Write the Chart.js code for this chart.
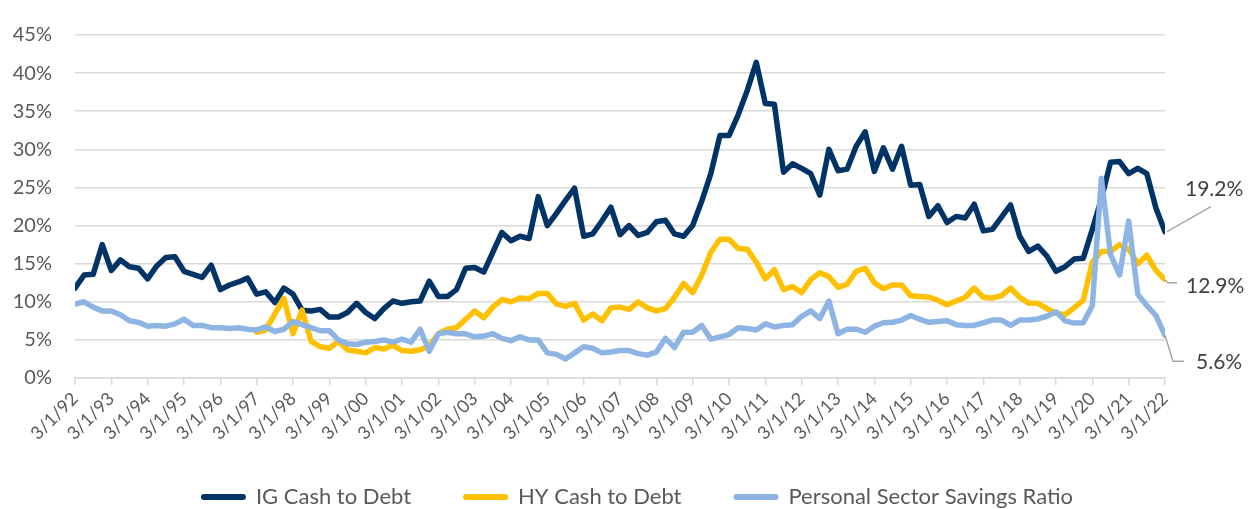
<!DOCTYPE html>
<html>
<head>
<meta charset="utf-8">
<script src="https://cdn.jsdelivr.net/npm/chart.js@4"></script>
<style>
html, body { margin: 0; padding: 0; background: #fff; }
</style>
</head>
<body>
<canvas id="myChart" width="1250" height="509"></canvas>
<script>
// year ticks, one every 4 quarters
var tickLabels = ["3/1/92","3/1/93","3/1/94","3/1/95","3/1/96","3/1/97","3/1/98","3/1/99","3/1/00","3/1/01",
  "3/1/02","3/1/03","3/1/04","3/1/05","3/1/06","3/1/07","3/1/08","3/1/09","3/1/10","3/1/11",
  "3/1/12","3/1/13","3/1/14","3/1/15","3/1/16","3/1/17","3/1/18","3/1/19","3/1/20","3/1/21","3/1/22"];

// quarterly values (%), 3/1/92 .. 3/1/22
var igCash = [11.8,13.5,13.6,17.5,14.1,15.5,14.6,14.4,13.0,14.7,15.8,15.9,14.0,13.6,13.2,14.8,
  11.6,12.2,12.6,13.1,11.0,11.3,9.9,11.8,11.0,8.9,8.8,9.0,8.0,8.0,8.6,9.8,
  8.6,7.8,9.1,10.1,9.8,10.0,10.1,12.7,10.7,10.7,11.6,14.4,14.5,13.9,16.5,19.1,
  18.0,18.6,18.3,23.8,20.0,21.6,23.3,24.9,18.6,18.9,20.6,22.4,18.8,20.0,18.7,19.1,
  20.5,20.7,18.9,18.6,20.0,23.2,26.8,31.8,31.8,34.5,37.7,41.4,36.0,35.9,27.0,28.1,
  27.5,26.8,24.0,30.0,27.2,27.4,30.4,32.3,27.1,30.2,27.4,30.4,25.3,25.4,21.2,22.6,
  20.4,21.2,21.0,22.8,19.3,19.5,21.1,22.7,18.6,16.6,17.3,16.0,14.0,14.6,15.6,15.7,
  19.5,23.5,28.3,28.4,26.8,27.5,26.8,22.3,19.2];

var hyCash = [null,null,null,null,null,null,null,null,null,null,null,null,null,null,null,null,
  null,null,null,null,6.0,6.3,8.4,10.4,5.8,8.9,4.8,4.1,3.9,4.8,3.7,3.5,
  3.3,4.0,3.8,4.3,3.6,3.5,3.7,4.2,5.8,6.4,6.6,7.7,8.8,7.9,9.3,10.3,
  10.0,10.5,10.4,11.1,11.1,9.7,9.4,9.8,7.6,8.4,7.5,9.2,9.3,9.0,10.0,9.2,
  8.8,9.1,10.6,12.4,11.2,13.5,16.5,18.2,18.2,17.0,16.9,15.2,13.0,14.2,11.6,12.0,
  11.2,12.9,13.8,13.3,11.9,12.3,14.0,14.4,12.5,11.7,12.2,12.2,10.8,10.7,10.6,10.2,
  9.6,10.1,10.6,11.8,10.6,10.5,10.8,11.8,10.6,9.8,9.8,9.1,8.5,8.3,9.2,10.2,
  15.2,16.6,16.6,17.5,16.9,15.0,16.1,14.1,12.9];

var savings = [9.7,10.0,9.3,8.8,8.8,8.3,7.5,7.3,6.8,6.9,6.8,7.1,7.7,6.9,6.9,6.6,
  6.6,6.5,6.6,6.4,6.3,6.7,6.1,6.4,7.4,7.0,6.6,6.2,6.2,5.0,4.5,4.4,
  4.7,4.8,5.0,4.7,5.1,4.7,6.4,3.5,5.8,6.0,5.8,5.8,5.4,5.5,5.8,5.2,
  4.9,5.4,5.0,5.0,3.3,3.1,2.5,3.3,4.1,3.9,3.3,3.4,3.6,3.6,3.2,3.0,
  3.4,5.2,4.0,6.0,6.0,6.9,5.1,5.4,5.7,6.6,6.5,6.3,7.1,6.7,6.9,7.0,
  8.1,8.8,7.8,10.1,5.8,6.4,6.4,6.0,6.8,7.25,7.3,7.6,8.2,7.7,7.3,7.4,
  7.5,7.0,6.9,6.9,7.25,7.6,7.6,6.9,7.6,7.6,7.75,8.1,8.7,7.5,7.2,7.25,
  9.5,26.2,16.2,13.5,20.6,11.0,9.5,8.2,5.6];

var seriesNames = ["IG Cash to Debt", "HY Cash to Debt", "Personal Sector Savings Ratio"];
var lineColors = ["#003366", "#FFC000", "#8DB4E2"];
var endLabels = ["19.2%", "12.9%", "5.6%"];

var fontName = "Lato, 'Open Sans', sans-serif";

function toPoints(arr) {
  return arr.map(function (v, i) { return { x: i, y: v }; });
}

// grey leader lines + value text at the last point of each series
const endLabelPlugin = {
  id: 'end_labels',
  afterDatasetsDraw: (chart) => {
    const {ctx} = chart;
    ctx.save();
    ctx.strokeStyle = '#A6A6A6';
    ctx.lineWidth = 1.5;
    ctx.fillStyle = '#404040';
    ctx.font = '21px ' + fontName;
    ctx.textBaseline = 'middle';
    ctx.textAlign = 'left';
    for (var d = 0; d < 3; d++) {
      var meta = chart.getDatasetMeta(d);
      var pt = meta.data[meta.data.length - 1];
      var px = pt.x, py = pt.y;
      ctx.beginPath();
      if (d === 0) {
        ctx.moveTo(px + 2, py);
        ctx.lineTo(px + 46, py - 25);
        ctx.stroke();
        ctx.fillText(endLabels[d], px + 20, py - 42);
      } else if (d === 1) {
        ctx.moveTo(px, py);
        ctx.lineTo(px + 3, py + 3);
        ctx.lineTo(px + 12, py + 3);
        ctx.stroke();
        ctx.fillText(endLabels[d], px + 21, py + 7);
      } else {
        ctx.moveTo(px, py);
        ctx.lineTo(px + 8, py + 26);
        ctx.lineTo(px + 19, py + 26);
        ctx.stroke();
        ctx.fillText(endLabels[d], px + 31, py + 27);
      }
    }
    ctx.restore();
  }
};

// bottom legend with rounded line samples
const legendPlugin = {
  id: 'line_legend',
  afterDraw: (chart) => {
    const {ctx} = chart;
    ctx.save();
    ctx.font = '22px ' + fontName;
    var sample = 45, gapText = 10, gapItem = 52;
    var total = 0;
    for (var i = 0; i < seriesNames.length; i++) {
      total += sample + gapText + ctx.measureText(seriesNames[i]).width;
      if (i > 0) total += gapItem;
    }
    var x = 637 - total / 2;
    var y = 497;
    ctx.textBaseline = 'middle';
    ctx.textAlign = 'left';
    for (var i = 0; i < seriesNames.length; i++) {
      ctx.strokeStyle = lineColors[i];
      ctx.lineWidth = 6;
      ctx.lineCap = 'round';
      ctx.beginPath();
      ctx.moveTo(x + 3, y);
      ctx.lineTo(x + sample - 3, y);
      ctx.stroke();
      x += sample + gapText;
      ctx.fillStyle = '#595959';
      ctx.fillText(seriesNames[i], x, y);
      x += ctx.measureText(seriesNames[i]).width + gapItem;
    }
    ctx.restore();
  }
};

function makeSet(idx, arr, ord) {
  return {
    label: seriesNames[idx],
    data: toPoints(arr),
    borderColor: lineColors[idx],
    backgroundColor: lineColors[idx],
    borderWidth: 5.5,
    borderJoinStyle: 'round',
    borderCapStyle: 'round',
    pointRadius: 0,
    tension: 0,
    spanGaps: false,
    order: ord
  };
}

new Chart("myChart", {
  type: "line",
  plugins: [endLabelPlugin, legendPlugin],
  data: {
    datasets: [
      makeSet(0, igCash, 3),
      makeSet(1, hyCash, 2),
      makeSet(2, savings, 1)
    ]
  },
  options: {
    responsive: false,
    animation: false,
    layout: { padding: { top: 18, left: 12, right: 85, bottom: 36 } },
    plugins: {
      legend: { display: false },
      tooltip: { enabled: false }
    },
    scales: {
      x: {
        type: 'linear',
        min: 0,
        max: 120,
        afterFit: (s) => { s.height = 95; },
        grid: {
          drawOnChartArea: false,
          drawTicks: true,
          tickLength: 7,
          color: '#D9D9D9',
          lineWidth: 1.5
        },
        border: { display: true, color: '#D9D9D9', width: 1.5 },
        ticks: {
          stepSize: 4,
          autoSkip: false,
          maxRotation: 45,
          minRotation: 45,
          padding: 3,
          color: '#595959',
          font: { family: fontName, size: 18 },
          callback: function (v) { return tickLabels[v / 4]; }
        }
      },
      y: {
        min: 0,
        max: 45,
        afterFit: (s) => { s.width = 63; },
        grid: {
          color: '#D9D9D9',
          lineWidth: 1.5,
          drawTicks: false
        },
        border: { display: false },
        ticks: {
          stepSize: 5,
          padding: 23,
          color: '#595959',
          font: { family: fontName, size: 20 },
          callback: function (v) { return v + '%'; }
        }
      }
    }
  }
});
</script>
</body>
</html>
